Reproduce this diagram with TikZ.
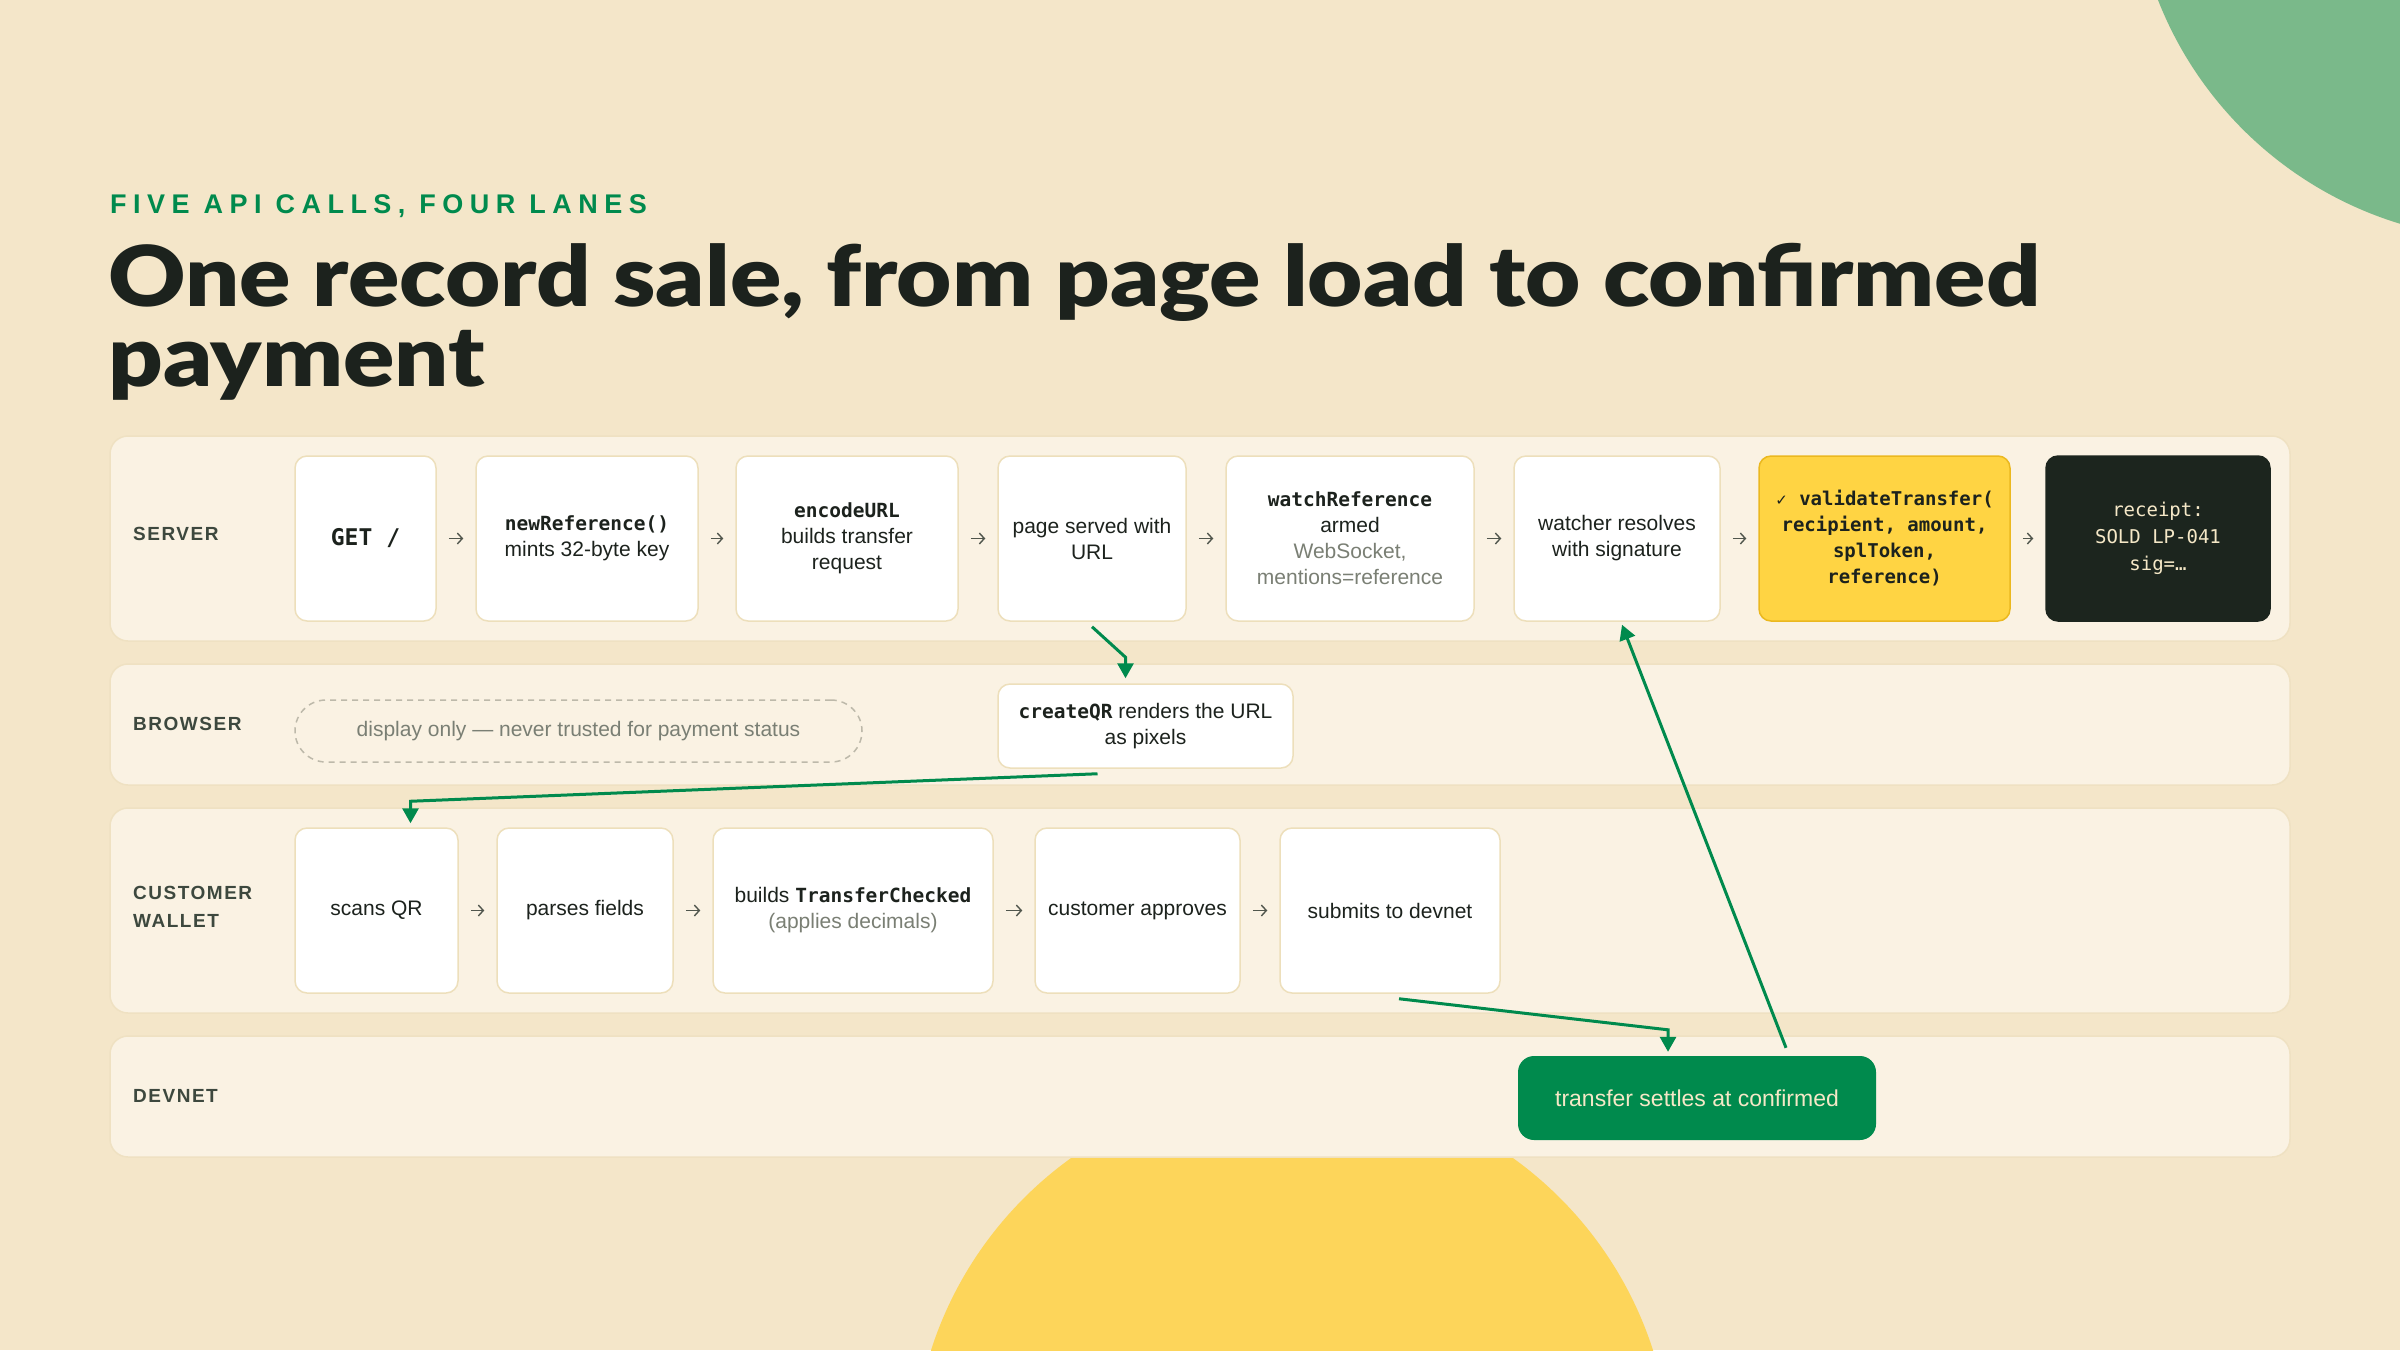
\documentclass[tikz,border=0pt]{standalone}
\usepackage{fontspec}
\setmainfont{Liberation Sans}
\setmonofont{DejaVu Sans Mono}
\newfontfamily\titlefont[FakeStretch=1.135]{Lato Black}
\newfontfamily\capsfont[LetterSpace=8]{Liberation Sans}
\newfontfamily\kickerfont[LetterSpace=24]{Liberation Sans}
\newfontfamily\symfont{DejaVu Sans}
\usepackage{tikz}
\usetikzlibrary{arrows.meta, positioning}
\definecolor{paper}{RGB}{244,230,201}
\definecolor{lanefill}{RGB}{250,242,227}
\definecolor{laneline}{RGB}{239,225,194}
\definecolor{boxline}{RGB}{237,223,187}
\definecolor{ink}{RGB}{28,34,29}
\definecolor{labelgray}{RGB}{61,72,62}
\definecolor{mutedgray}{RGB}{122,127,116}
\definecolor{dashgray}{RGB}{189,185,170}
\definecolor{arrowgray}{RGB}{80,86,77}
\definecolor{accentgreen}{RGB}{0,138,77}
\definecolor{softgreen}{RGB}{122,185,138}
\definecolor{sunyellow}{RGB}{253,213,90}
\definecolor{checkyellow}{RGB}{255,212,67}
\definecolor{checkline}{RGB}{235,184,31}
\definecolor{nightbox}{RGB}{28,37,30}
\definecolor{cream}{RGB}{245,232,199}
\newcommand{\boxfont}{\fontsize{21}{26}\selectfont}
\newcommand{\lanefont}{\capsfont\bfseries\fontsize{19}{28}\selectfont}
\newcommand{\apicall}[1]{{\ttfamily\bfseries\fontsize{19.5}{26}\selectfont #1}}

\begin{document}
\begin{tikzpicture}[
    x=1pt, y=-1pt,
    lane/.style={draw=laneline, line width=1.5pt, fill=lanefill, rounded corners=18pt, minimum width=2180pt, inner sep=0pt},
    lanelabel/.style={anchor=west, align=left, inner sep=0pt, text=labelgray, font=\lanefont},
    box/.style={draw=boxline, line width=1.5pt, fill=white, rounded corners=12pt, align=center, font=\boxfont, text=ink, inner sep=4pt},
    srvbox/.style={box, minimum height=165pt},
    walbox/.style={box, minimum height=165pt},
    checkbox/.style={srvbox, fill=checkyellow, draw=checkline, font=\ttfamily\bfseries\fontsize{19}{26}\selectfont},
    nightnode/.style={srvbox, fill=nightbox, draw=nightbox, text=cream, font=\ttfamily\fontsize{19}{27}\selectfont},
    dashnote/.style={draw=dashgray, dash pattern=on 6pt off 5pt, line width=1.5pt, rounded corners=31pt, text=mutedgray, font=\fontsize{21}{24}\selectfont},
    settlebox/.style={fill=accentgreen, rounded corners=16pt, text=cream, font=\fontsize{23}{26}\selectfont},
    stepflow/.style={draw=arrowgray, line width=1.4pt, -{Straight Barb[length=5pt,width=11pt]}, shorten <=12pt, shorten >=12pt},
    flow/.style={draw=accentgreen, line width=3pt, -{Triangle[width=16pt,length=15pt]}}
]
    \useasboundingbox (0,0) rectangle (2400,1350);
    \fill[paper] (0,0) rectangle (2400,1350);

    % Corner circles
    \begin{scope}
        \clip (0,0) rectangle (2400,1350);
        \fill[softgreen] (2510,-138) circle[radius=378pt];
        \fill[sunyellow] (1292,1466) circle[radius=379pt];
    \end{scope}

    % Heading
    \node[anchor=base west, inner sep=0pt, text=accentgreen, font=\kickerfont\bfseries\fontsize{27}{30}\selectfont] (kicker) at (110,213) {FIVE API CALLS, FOUR LANES};
    \node[anchor=base west, inner sep=0pt, align=left, text=ink, font=\titlefont\fontsize{84}{80}\selectfont] (headline) at (108,386) {One record sale, from page load to confirmed\\payment};

    % Lanes
    \node[lane, minimum height=205pt] (srvlane) at (1200,538.5) {};
    \node[lane, minimum height=121pt] (brwlane) at (1200,724.5) {};
    \node[lane, minimum height=205pt] (wallane) at (1200,910.5) {};
    \node[lane, minimum height=121pt] (devlane) at (1200,1096.5) {};
    \node[lanelabel] (srvlabel) at (133,534) {SERVER};
    \node[lanelabel] (brwlabel) at (133,724) {BROWSER};
    \node[lanelabel] (wallabel) at (133,907) {CUSTOMER\\WALLET};
    \node[lanelabel] (devlabel) at (133,1096) {DEVNET};

    % Server lane
    \node[srvbox, minimum width=141pt, font=\ttfamily\bfseries\fontsize{23}{26}\selectfont] (get) at (365.5,538.5) {GET /};
    \node[srvbox, minimum width=222pt] (newref) at (587,538.5) {\apicall{newReference()}\\mints 32-byte key};
    \node[srvbox, minimum width=222pt] (encode) at (847,538.5) {\apicall{encodeURL}\\builds transfer\\request};
    \node[srvbox, minimum width=188pt] (page) at (1092,538.5) {page served with\\URL};
    \node[srvbox, minimum width=248pt] (watch) at (1350,538.5) {\apicall{watchReference}\\armed\\\textcolor{mutedgray}{WebSocket,}\\\textcolor{mutedgray}{mentions=reference}};
    \node[srvbox, minimum width=206pt] (watcher) at (1617,538.5) {watcher resolves\\with signature};
    \node[checkbox, minimum width=251pt] (validate) at (1884.5,538.5) {{\symfont\fontsize{15}{26}\selectfont ✓} validateTransfer(\\recipient, amount,\\splToken,\\reference)};
    \node[nightnode, minimum width=224pt] (receipt) at (2158,538.5) {receipt:\\SOLD LP-041\\sig=…};

    % Browser lane
    \node[dashnote, minimum width=567pt, minimum height=62pt] (displaynote) at (578.5,731) {display only — never trusted for payment status};
    \node[box, minimum width=295pt, minimum height=84pt] (qr) at (1145.5,726) {\apicall{createQR} renders the URL\\as pixels};

    % Customer wallet lane
    \node[walbox, minimum width=163pt] (scans) at (376.5,910.5) {scans QR};
    \node[walbox, minimum width=176pt] (parses) at (585,910.5) {parses fields};
    \node[walbox, minimum width=280pt] (builds) at (853,910.5) {builds \apicall{TransferChecked}\\\textcolor{mutedgray}{(applies decimals)}};
    \node[walbox, minimum width=205pt] (approves) at (1137.5,910.5) {customer approves};
    \node[walbox, minimum width=220pt] (submits) at (1390,910.5) {submits to devnet};

    % Devnet lane
    \node[settlebox, minimum width=358pt, minimum height=84pt] (settle) at (1697,1098) {transfer settles at confirmed};

    % Steps inside a lane
    \foreach \a/\b in {get/newref, newref/encode, encode/page, page/watch, watch/watcher, watcher/validate, validate/receipt, scans/parses, parses/builds, builds/approves, approves/submits}
        \draw[stepflow] (\a) -- (\b);

    % Hand-offs between lanes
    \draw[flow, shorten >=5pt] ([yshift=-5pt]page.south) -- ([xshift=-20pt,yshift=26pt]qr.north) -- ([xshift=-20pt]qr.north);
    \draw[flow, shorten >=4pt] ([xshift=-48pt,yshift=-5pt]qr.south) -- ([xshift=34pt,yshift=26pt]scans.north) -- ([xshift=34pt]scans.north);
    \draw[flow, shorten >=4pt] ([xshift=9pt,yshift=-5pt]submits.south) -- ([xshift=-29pt,yshift=26pt]settle.north) -- ([xshift=-29pt]settle.north);
    \draw[flow] ([xshift=89pt,yshift=8pt]settle.north) -- ([xshift=5pt,yshift=-3pt]watcher.south);
\end{tikzpicture}
\end{document}
